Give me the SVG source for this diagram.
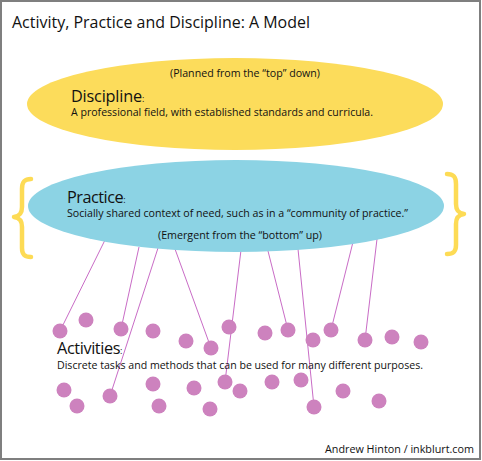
<svg xmlns="http://www.w3.org/2000/svg" width="482" height="461" viewBox="0 0 482 461">
<style>
text{font-family:"Open Sans","Liberation Sans",sans-serif;fill:#111}
.big{font-size:17px}
.sm{font-size:10.5px}
.col{font-size:9px}
.ln{stroke:#C96CC6;stroke-width:1;fill:none}
.dot{fill:#CD82BE}
.brace{fill:none;stroke:#FDDB55;stroke-width:4.5;stroke-linecap:round;stroke-linejoin:round}
</style>
<rect x="1" y="1" width="479" height="458" fill="#fff" stroke="#7f7f7f" stroke-width="2"/>
<text class="big" x="12" y="28" textLength="298" lengthAdjust="spacingAndGlyphs">Activity, Practice and Discipline: A Model</text>

<g id="discipline">
<ellipse cx="235" cy="104" rx="208" ry="46" fill="#FCDC5B"/>
<text class="sm" x="170" y="77" textLength="150" lengthAdjust="spacingAndGlyphs">(Planned from the “top” down)</text>
<text x="71" y="102" style="font-size:16.3px;letter-spacing:-0.2px">Discipline<tspan class="col">:</tspan></text>
<text class="sm" x="71" y="116" textLength="302" lengthAdjust="spacingAndGlyphs">A professional field, with established standards and curricula.</text>
</g>

<g id="connectors">
<line class="ln" x1="105" y1="240" x2="60" y2="331"/>
<line class="ln" x1="139" y1="247" x2="121" y2="329"/>
<line class="ln" x1="158" y1="248" x2="110" y2="396"/>
<line class="ln" x1="175" y1="249" x2="211" y2="348"/>
<line class="ln" x1="241" y1="250" x2="225" y2="382"/>
<line class="ln" x1="268" y1="251" x2="288" y2="330"/>
<line class="ln" x1="298" y1="249" x2="314" y2="407"/>
<line class="ln" x1="353" y1="242" x2="331" y2="330"/>
<line class="ln" x1="377" y1="239" x2="365" y2="340"/>
</g>

<g id="practice">
<path class="brace" d="M31,179 C24,179 22,182 22,189 L22,207 C22,213 20,216 14,217 C20,218 22,221 22,227 L22,248 C22,254 24,257 31,257"/>
<path class="brace" d="M447,174 C454,174 456,177 456,184 L456,204 C456,210 458,213 464,214 C458,215 456,218 456,224 L456,245 C456,251 454,254 447,254"/>
<ellipse cx="236" cy="206" rx="208" ry="46" fill="#8CD3E4"/>
<text x="67" y="203" style="font-size:16.3px;letter-spacing:-0.5px">Practice<tspan class="col">:</tspan></text>
<text class="sm" x="67" y="217" textLength="341" lengthAdjust="spacingAndGlyphs">Socially shared context of need, such as in a “community of practice.”</text>
<text class="sm" x="158" y="239" textLength="164" lengthAdjust="spacingAndGlyphs">(Emergent from the “bottom” up)</text>
</g>

<g id="activities">
<g class="dot">
<circle cx="60" cy="331" r="7.5"/>
<circle cx="86" cy="320" r="7.5"/>
<circle cx="121" cy="329" r="7.5"/>
<circle cx="153" cy="331" r="7.5"/>
<circle cx="186" cy="341" r="7.5"/>
<circle cx="211" cy="348" r="7.5"/>
<circle cx="229" cy="327" r="7.5"/>
<circle cx="265" cy="333" r="7.5"/>
<circle cx="288" cy="330" r="7.5"/>
<circle cx="313" cy="340" r="7.5"/>
<circle cx="331" cy="330" r="7.5"/>
<circle cx="365" cy="340" r="7.5"/>
<circle cx="392" cy="337" r="7.5"/>
<circle cx="421" cy="342" r="7.5"/>
<circle cx="64" cy="390" r="7.5"/>
<circle cx="77" cy="406" r="7.5"/>
<circle cx="110" cy="396" r="7.5"/>
<circle cx="153" cy="384" r="7.5"/>
<circle cx="159" cy="406" r="7.5"/>
<circle cx="194" cy="388" r="7.5"/>
<circle cx="210" cy="409" r="7.5"/>
<circle cx="225" cy="382" r="7.5"/>
<circle cx="240" cy="391" r="7.5"/>
<circle cx="272" cy="382" r="7.5"/>
<circle cx="301" cy="380" r="7.5"/>
<circle cx="314" cy="407" r="7.5"/>
<circle cx="343" cy="391" r="7.5"/>
<circle cx="379" cy="401" r="7.5"/>
</g>
<text x="57" y="354" style="font-size:16.3px;letter-spacing:-0.4px">Activities<tspan class="col">:</tspan></text>
<text class="sm" x="57" y="369" textLength="366" lengthAdjust="spacingAndGlyphs">Discrete tasks and methods that can be used for many different purposes.</text>
</g>

<text x="325" y="453" style="font-size:11px" textLength="149" lengthAdjust="spacingAndGlyphs">Andrew Hinton / inkblurt.com</text>
</svg>
